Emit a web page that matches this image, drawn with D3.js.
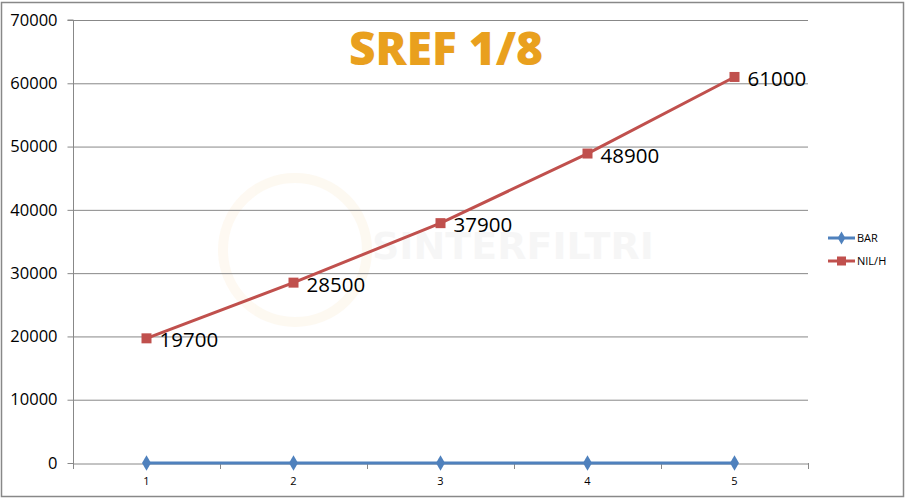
<!DOCTYPE html>
<html><head><meta charset="utf-8">
<script src="https://cdn.jsdelivr.net/npm/d3@7"></script>
<style>body{margin:0;background:#fff}svg{display:block}</style>
</head><body>
<svg id="c" width="906" height="500"></svg>
<script>
const categories = ["1","2","3","4","5"];
const barValues = [0,0,0,0,0];
const nilValues = [19700,28500,37900,48900,61000];
const yTicks = [0,10000,20000,30000,40000,50000,60000,70000];
const seriesNames = ["BAR","NIL/H"];
const title = "SREF 1/8";

const svg = d3.select("#c");
const L=73, R=808, T=20, B=463;
const font = "'Open Sans', 'DejaVu Sans', sans-serif";

svg.append("rect").attr("x",1.5).attr("y",2.5).attr("width",902).attr("height",494)
  .attr("fill","#fff").attr("stroke","#888").attr("stroke-width",1.5);

// watermark
const wm = svg.append("g").attr("opacity",0.06);
wm.append("circle").attr("cx",295).attr("cy",250).attr("r",72).attr("fill","none").attr("stroke","#e8a020").attr("stroke-width",10);
wm.append("text").attr("x",372).attr("y",259).attr("font-family","'DejaVu Sans', sans-serif").attr("font-weight","bold")
  .attr("font-size",38).attr("fill","#777").text("SINTERFILTRI");

const x = d3.scaleBand().domain(categories).range([L,R]);
const y = d3.scaleLinear().domain([0,70000]).range([B,T]);
const cx = d => x(d)+x.bandwidth()/2;

// gridlines
svg.append("g").selectAll("line").data(yTicks.filter(v=>v>0)).join("line")
  .attr("x1",L).attr("x2",R).attr("y1",d=>y(d)+0.5).attr("y2",d=>y(d)+0.5)
  .attr("stroke","#888").attr("stroke-width",1);

// y axis
const ya = svg.append("g").attr("transform",`translate(${L+0.5},0)`)
  .call(d3.axisLeft(y).tickValues(yTicks).tickSize(6).tickPadding(10).tickFormat(d3.format("d")));
ya.select(".domain").attr("stroke","#888").attr("d",`M-6,${T}H0V${B}`);
ya.selectAll(".tick line").attr("stroke","#888");
ya.selectAll(".tick text").attr("font-family",font).attr("font-size",16.5).attr("fill","#000");

// x axis
const xa = svg.append("g").attr("transform",`translate(0,${B+0.5})`)
  .call(d3.axisBottom(x).tickSize(0).tickPadding(14));
xa.select(".domain").attr("stroke","#888");
xa.selectAll(".tick text").attr("font-family",font).attr("font-size",11).attr("fill","#000");
const bounds = categories.map(c=>x(c)).concat([R]);
svg.append("g").selectAll("line").data(bounds).join("line")
  .attr("x1",d=>d+0.5).attr("x2",d=>d+0.5).attr("y1",B).attr("y2",B+6).attr("stroke","#888");

// NIL/H series
const red="#C0504D", blue="#4F81BD";
const line = d3.line().x((d,i)=>cx(categories[i])).y(d=>y(d));
svg.append("path").datum(nilValues).attr("d",line).attr("fill","none").attr("stroke",red).attr("stroke-width",3);
svg.append("g").selectAll("rect").data(nilValues).join("rect")
  .attr("x",(d,i)=>cx(categories[i])-5).attr("y",d=>y(d)-5).attr("width",10).attr("height",10).attr("fill",red);
svg.append("g").selectAll("text").data(nilValues).join("text")
  .attr("x",(d,i)=>cx(categories[i])+13).attr("y",d=>y(d)+9)
  .attr("font-family",font).attr("font-size",20.5).attr("fill","#000").text(d=>d);

// BAR series
svg.append("path").datum(barValues).attr("d",line).attr("fill","none").attr("stroke",blue).attr("stroke-width",3);
const diamond = d3.symbol().type(d3.symbolDiamond).size(70);
svg.append("g").selectAll("path").data(barValues).join("path")
  .attr("transform",(d,i)=>`translate(${cx(categories[i])},${y(d)})`).attr("d",diamond).attr("fill",blue);

// title
svg.append("text").attr("x",446).attr("y",65).attr("text-anchor","middle")
  .attr("font-family","'Open Sans', sans-serif").attr("font-weight",800).attr("font-size",46)
  .attr("fill","#E9A01E").text(title);

// legend
const lg = svg.append("g");
seriesNames.forEach((n,i)=>{
  const yy = 238 + i*23, col = i===0?blue:red;
  lg.append("line").attr("x1",828).attr("x2",855).attr("y1",yy).attr("y2",yy).attr("stroke",col).attr("stroke-width",3);
  if(i===0) lg.append("path").attr("transform",`translate(841.5,${yy})`).attr("d",d3.symbol().type(d3.symbolDiamond).size(50)).attr("fill",col);
  else lg.append("rect").attr("x",837).attr("y",yy-4.5).attr("width",9).attr("height",9).attr("fill",col);
  lg.append("text").attr("x",857).attr("y",yy+4).attr("font-family",font).attr("font-size",11).attr("fill","#000").text(n);
});
</script>
</body></html>
